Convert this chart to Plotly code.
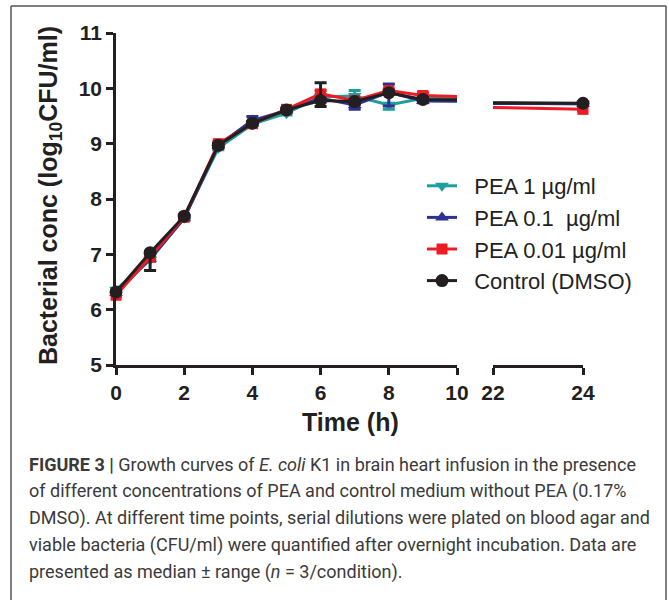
import plotly.graph_objects as go

# ---------------- data ----------------
time_h = [0, 1, 2, 3, 4, 5, 6, 7, 8, 9, 24]

pea1 = [6.36, 6.90, 7.66, 8.92, 9.35, 9.55, 9.85, 9.86, 9.70, 9.82, 9.72]
pea1_up = [0.03, 0.03, 0.03, 0.03, 0.03, 0.03, 0.03, 0.10, 0.03, 0.03, 0.03]
pea1_dn = [0.03, 0.03, 0.03, 0.03, 0.03, 0.03, 0.03, 0.03, 0.08, 0.03, 0.03]

pea01 = [6.30, 6.92, 7.65, 8.97, 9.42, 9.60, 9.82, 9.70, 9.93, 9.77, 9.72]
pea01_up = [0.03, 0.03, 0.03, 0.03, 0.07, 0.03, 0.03, 0.03, 0.15, 0.03, 0.03]
pea01_dn = [0.03, 0.03, 0.03, 0.03, 0.03, 0.03, 0.03, 0.08, 0.25, 0.03, 0.03]

pea001 = [6.26, 6.95, 7.67, 9.00, 9.36, 9.62, 9.90, 9.78, 9.96, 9.87, 9.62]
pea001_up = [0.03, 0.03, 0.03, 0.03, 0.03, 0.03, 0.06, 0.03, 0.03, 0.05, 0.03]
pea001_dn = [0.03, 0.03, 0.03, 0.03, 0.03, 0.03, 0.05, 0.03, 0.03, 0.05, 0.03]

ctrl = [6.32, 7.03, 7.69, 8.97, 9.37, 9.61, 9.78, 9.76, 9.92, 9.80, 9.73]
ctrl_up = [0.03, 0.02, 0.02, 0.03, 0.03, 0.02, 0.32, 0.03, 0.04, 0.02, 0.02]
ctrl_dn = [0.03, 0.32, 0.02, 0.05, 0.03, 0.02, 0.11, 0.05, 0.03, 0.02, 0.02]

series_names = ["PEA 1 \u00b5g/ml", "PEA 0.1 &nbsp;\u00b5g/ml", "PEA 0.01 \u00b5g/ml", "Control (DMSO)"]
x_ticks_1 = [0, 2, 4, 6, 8, 10]
x_ticks_2 = [22, 24]
y_ticks = [5, 6, 7, 8, 9, 10, 11]

caption_lines = [
    "<b>FIGURE 3 |</b> Growth curves of <i>E. coli</i> K1 in brain heart infusion in the presence",
    "of different concentrations of PEA and control medium without PEA (0.17%",
    "DMSO). At different time points, serial dilutions were plated on blood agar and",
    "viable bacteria (CFU/ml) were quantified after overnight incubation. Data are",
    "presented as median \u00b1 range (<i>n</i> = 3/condition).",
]

# ---------------- layout geometry (pixels) ----------------
W_FIG, H_FIG = 669, 600
L, T = 116, 33
R_PX, B_PX = 583, 365
PW, PH = R_PX - L, B_PX - T


def px_x(px):
    return (px - L) / PW


def px_y(py):
    return 1 - (py - T) / PH


AX = "#231f20"
FONT_B = "'Liberation Sans', Arial, Helvetica, sans-serif"

colors = ["#1f9e9e", "#2e3192", "#ed1c24", "#231f20"]
symbols = ["triangle-down", "triangle-up", "square", "circle"]
msizes = [12, 12, 11, 13]
ys = [pea1, pea01, pea001, ctrl]
ups = [pea1_up, pea01_up, pea001_up, ctrl_up]
dns = [pea1_dn, pea01_dn, pea001_dn, ctrl_dn]

fig = go.Figure()
for xa in ["x", "x2"]:
    for i in range(4):
        fig.add_trace(go.Scatter(
            x=time_h, y=ys[i], xaxis=xa, yaxis="y",
            mode="lines+markers", name="&nbsp;&nbsp;" + series_names[i],
            legendgroup=f"g{i}", showlegend=(xa == "x"),
            line=dict(color=colors[i], width=3),
            marker=dict(color=colors[i], symbol=symbols[i], size=msizes[i], line=dict(width=0)),
            error_y=dict(type="data", symmetric=False, array=ups[i], arrayminus=dns[i],
                         color=colors[i], thickness=3, width=6),
            cliponaxis=False,
        ))

axis_common = dict(showline=True, linecolor=AX, linewidth=2.5, ticks="outside",
                   ticklen=7, tickwidth=2.5, tickcolor=AX, showgrid=False, zeroline=False,
                   tickfont=dict(family=FONT_B, size=21, color=AX, weight="bold"))

fig.update_layout(
    width=W_FIG, height=H_FIG,
    margin=dict(l=L, r=W_FIG - R_PX, t=T, b=H_FIG - B_PX),
    paper_bgcolor="white", plot_bgcolor="white",
    xaxis=dict(domain=[0, px_x(457)], range=[0, 10], tickvals=x_ticks_1, anchor="y", **axis_common),
    xaxis2=dict(domain=[px_x(493), 1], range=[22, 24], tickvals=x_ticks_2, anchor="y", **axis_common),
    yaxis=dict(range=[5, 11], tickvals=y_ticks, anchor="x", **axis_common),
    legend=dict(x=px_x(422), y=px_y(165), xanchor="left", yanchor="top",
                font=dict(family=FONT_B, size=22, color=AX), bgcolor="rgba(0,0,0,0)",
                tracegroupgap=0, itemwidth=30),
    showlegend=True,
)

# axis titles
fig.add_annotation(text="<b>Time (h)</b>", xref="paper", yref="paper", x=px_x(350), y=px_y(422),
                   showarrow=False, font=dict(family=FONT_B, size=25, color=AX),
                   xanchor="center", yanchor="middle")
fig.add_annotation(text="<b>Bacterial conc (log<sub>10</sub>CFU/ml)</b>", xref="paper", yref="paper",
                   x=px_x(50), y=px_y(196), textangle=-90, showarrow=False,
                   font=dict(family=FONT_B, size=25, color=AX), xanchor="center", yanchor="middle")

# caption
CAP_FONT = "Roboto, sans-serif"
for k, line in enumerate(caption_lines):
    fig.add_annotation(text=line, xref="paper", yref="paper", x=px_x(27), y=px_y(464 + 27 * k),
                       showarrow=False, xanchor="left", yanchor="middle", align="left",
                       font=dict(family=CAP_FONT, size=18, color="#3a3a3a"))

# frame around the figure (four edges)
FR = dict(color="#555555", width=1.5)
fx0, fx1, fy0, fy1 = px_x(11), px_x(666), px_y(640), px_y(6)
fig.add_shape(type="line", xref="paper", yref="paper", x0=fx0, x1=fx1, y0=fy1, y1=fy1, line=FR, layer="above")
fig.add_shape(type="line", xref="paper", yref="paper", x0=fx0, x1=fx0, y0=fy0, y1=fy1, line=FR, layer="above")
fig.add_shape(type="line", xref="paper", yref="paper", x0=fx1, x1=fx1, y0=fy0, y1=fy1, line=FR, layer="above")

fig.write_html("out.html",
               config={"displayModeBar": False},
               post_script="document.body.style.margin='0px';document.body.style.overflow='hidden';")
